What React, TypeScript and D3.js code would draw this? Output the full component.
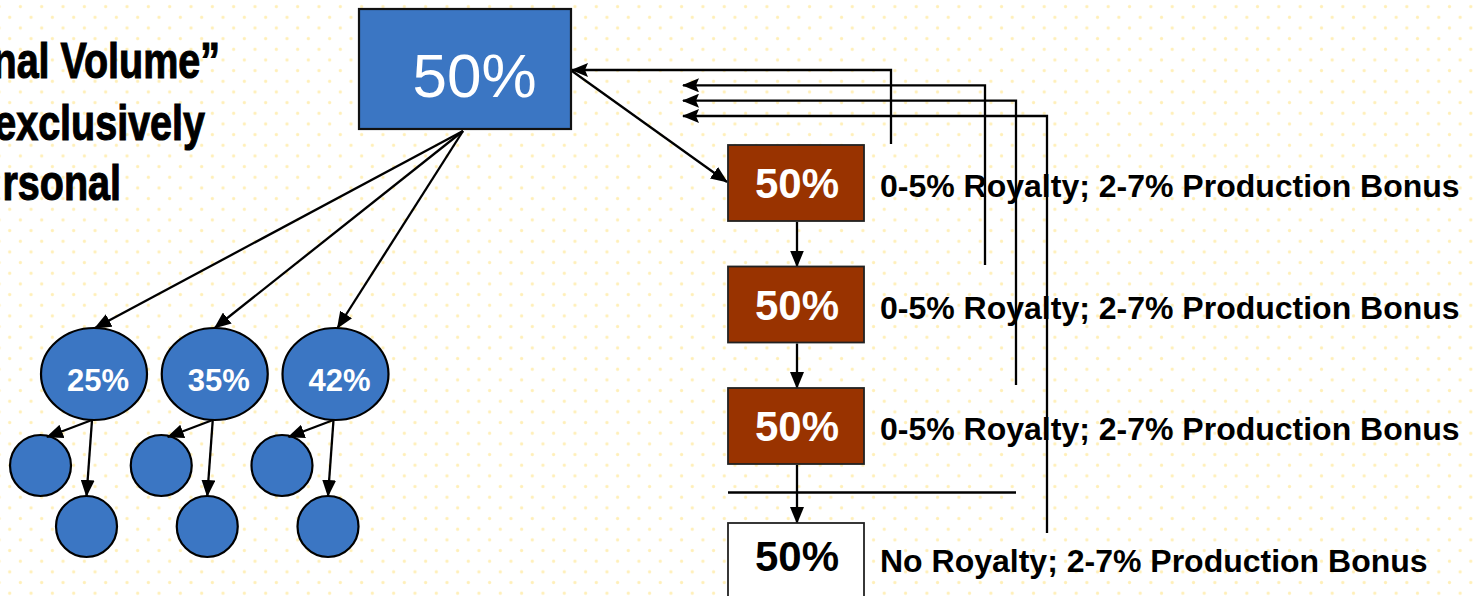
import React from "react";
import * as d3 from "d3";

// ---------- data ----------
const topShare = "50%";
const leftTextLines = ["nal Volume\u201d", "exclusively", "rsonal"];
const branchLabels = ["25%", "35%", "42%"];
const chainShares = ["50%", "50%", "50%"];
const chainNotes = [
  "0-5% Royalty; 2-7% Production Bonus",
  "0-5% Royalty; 2-7% Production Bonus",
  "0-5% Royalty; 2-7% Production Bonus",
];
const lastShare = "50%";
const lastNote = "No Royalty; 2-7% Production Bonus";

// ---------- layout ----------
const W = 1473;
const H = 596;
const FONT = "'Liberation Sans', Arial, Helvetica, sans-serif";
const BLUE = "#3B76C3";
const BROWN = "#993300";
const SW = 2.3;

const topBox = { x: 359, y: 9, w: 212, h: 120 };
const ellX = d3.scalePoint<string>().domain(branchLabels).range([94, 335.5]);
const ellY = 374, ellRx = 53, ellRy = 46;
const childR = 30.5;

const rowY = d3.scaleLinear().domain([0, 2]).range([145, 388]);
const lastY = 523;
const boxX = 728, boxW = 136, boxH = 76;
const boxCx = boxX + boxW / 2 + 1;
const noteX = 880;

const returnX = d3.scaleLinear().domain([1, 3]).range([985, 1047]);
const returnY = d3.scaleLinear().domain([0, 3]).range([70, 116]);

export default function App() {
  const leftTextRight = [220, 205, 121];
  const leftTextBase = [78, 140, 200];

  const returns = [
    { x: 891, y: returnY(0), bottom: 144, tip: topBox.x + topBox.w + 1 },
    { x: returnX(1), y: returnY(1), bottom: 265, tip: 683 },
    { x: returnX(2), y: returnY(2), bottom: 385, tip: 683 },
    { x: returnX(3), y: returnY(3), bottom: 533, tip: 683 },
  ];

  return (
    <svg
      width={W}
      height={H}
      viewBox={`0 0 ${W} ${H}`}
      style={{ position: "absolute", left: 0, top: 0, display: "block" }}
    >
      <defs>
        <pattern
          id="dots"
          patternUnits="userSpaceOnUse"
          width={21.33}
          height={21.33}
          x={9.7 - 5.33}
          y={17.3 - 5.33}
        >
          <circle cx={5.33} cy={5.33} r={1.6} fill="#FFEFB8" />
          <circle cx={16} cy={16} r={1.6} fill="#FFEFB8" />
        </pattern>
        <marker
          id="arr"
          markerUnits="userSpaceOnUse"
          markerWidth={18}
          markerHeight={14}
          refX={16}
          refY={7}
          orient="auto"
          viewBox="0 0 18 14"
        >
          <path d="M0,0 L17,7 L0,14 L3,7 Z" fill="#000" />
        </marker>
        <marker
          id="arr2"
          markerUnits="userSpaceOnUse"
          markerWidth={18}
          markerHeight={14}
          refX={16}
          refY={7}
          orient="auto"
          viewBox="0 0 18 14"
        >
          <path d="M0,0 L17,7 L0,14 Z" fill="#000" />
        </marker>
      </defs>
      <rect x={0} y={0} width={W} height={H} fill="#fff" />
      <rect x={0} y={0} width={W} height={H} fill="url(#dots)" />

      {/* left text (cut at the left edge, as in the reference) */}
      {leftTextLines.map((t, i) => (
        <text
          key={i}
          transform={`translate(${leftTextRight[i]},${leftTextBase[i]}) scale(0.79,1)`}
          textAnchor="end"
          fontFamily={FONT}
          fontWeight="bold"
          fontSize={50}
          fill="#000"
          stroke="#000"
          strokeWidth={1.1}
        >
          {t}
        </text>
      ))}

      {/* arrows from top box to ellipses */}
      {branchLabels.map((l, i) => {
        const tipX = ellX(l)! + [1, 0, 2][i];
        return (
          <line
            key={"ta" + i}
            x1={463}
            y1={topBox.y + topBox.h + 2}
            x2={tipX}
            y2={ellY - ellRy}
            stroke="#000"
            strokeWidth={SW}
            markerEnd="url(#arr2)"
          />
        );
      })}

      {/* ellipses and children */}
      {branchLabels.map((l, i) => {
        const cx = ellX(l)!;
        const ax = cx - 53.5, ay = 465.5;
        const bx = cx - 7.5, by = 526.5;
        const ox = cx - 2, oy = ellY + ellRy;
        return (
          <g key={"e" + i}>
            <circle cx={ax} cy={ay} r={childR} fill={BLUE} stroke="#000" strokeWidth={2.2} />
            <circle cx={bx} cy={by} r={childR} fill={BLUE} stroke="#000" strokeWidth={2.2} />
            <line x1={ox} y1={oy} x2={cx - 47} y2={437} stroke="#000" strokeWidth={SW} markerEnd="url(#arr2)" />
            <line x1={ox} y1={oy} x2={bx} y2={by - childR} stroke="#000" strokeWidth={SW} markerEnd="url(#arr2)" />
            <ellipse cx={cx} cy={ellY} rx={ellRx} ry={ellRy} fill={BLUE} stroke="#000" strokeWidth={2.2} />
            <text
              x={cx + 4}
              y={391}
              textAnchor="middle"
              fontFamily={FONT}
              fontWeight="bold"
              fontSize={31}
              fill="#fff"
            >
              {l}
            </text>
          </g>
        );
      })}

      {/* return connectors */}
      {returns.map((r, i) => (
        <polyline
          key={"r" + i}
          points={`${r.x},${r.bottom} ${r.x},${r.y} ${r.tip},${r.y}`}
          fill="none"
          stroke="#000"
          strokeWidth={SW}
          markerEnd="url(#arr)"
        />
      ))}

      {/* top box */}
      <rect
        x={topBox.x}
        y={topBox.y}
        width={topBox.w}
        height={topBox.h}
        fill={BLUE}
        stroke="#111"
        strokeWidth={2.2}
      />
      <text
        x={474.5}
        y={97}
        textAnchor="middle"
        fontFamily={FONT}
        fontSize={62}
        fill="#fff"
      >
        {topShare}
      </text>

      {/* diagonal arrow to first chain box */}
      <line
        x1={topBox.x + topBox.w + 1}
        y1={71}
        x2={boxX - 1}
        y2={182}
        stroke="#000"
        strokeWidth={SW}
        markerEnd="url(#arr2)"
      />

      {/* chain boxes */}
      {chainShares.map((s, i) => {
        const y = rowY(i);
        const nextTop = i < chainShares.length - 1 ? rowY(i + 1) : lastY;
        return (
          <g key={"c" + i}>
            <line
              x1={boxCx}
              y1={y + boxH + 1}
              x2={boxCx}
              y2={nextTop}
              stroke="#000"
              strokeWidth={SW}
              markerEnd="url(#arr2)"
            />
            <rect x={boxX} y={y} width={boxW} height={boxH} fill={BROWN} stroke="#222" strokeWidth={1.8} />
            <text
              x={boxCx}
              y={y + 53}
              textAnchor="middle"
              fontFamily={FONT}
              fontWeight="bold"
              fontSize={42}
              fill="#fff"
            >
              {s}
            </text>
            <text
              x={noteX}
              y={y + 52}
              fontFamily={FONT}
              fontWeight="bold"
              fontSize={32}
              fill="#000"
            >
              {chainNotes[i]}
            </text>
          </g>
        );
      })}

      {/* separator line */}
      <line x1={728} y1={492.5} x2={1016} y2={492.5} stroke="#000" strokeWidth={SW} />

      {/* last box */}
      <rect x={boxX} y={lastY} width={boxW} height={boxH} fill="#fff" stroke="#222" strokeWidth={1.8} />
      <text
        x={boxCx}
        y={lastY + 48}
        textAnchor="middle"
        fontFamily={FONT}
        fontWeight="bold"
        fontSize={42}
        fill="#000"
      >
        {lastShare}
      </text>
      <text x={noteX} y={572} fontFamily={FONT} fontWeight="bold" fontSize={32} fill="#000">
        {lastNote}
      </text>
    </svg>
  );
}
